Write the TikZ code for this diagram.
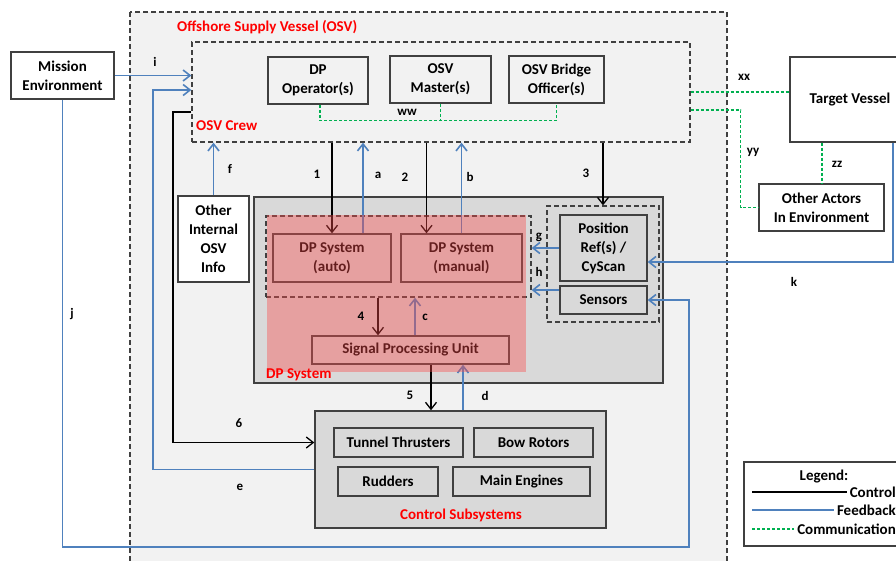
\documentclass[tikz,border=0pt]{standalone}
\usepackage{fontspec}
\setmainfont{Carlito}
\usetikzlibrary{arrows.meta}
\definecolor{fb}{RGB}{79,129,189}
\definecolor{com}{RGB}{0,176,80}
\definecolor{bgray}{RGB}{242,242,242}
\definecolor{dgray}{RGB}{217,217,217}
\definecolor{bord}{RGB}{64,64,64}
\definecolor{pinkov}{RGB}{250,75,75}
\begin{document}
\begin{tikzpicture}[x=1pt, y=-1pt, >={Straight Barb[length=7pt,width=11pt]},
    font=\fontsize{15}{19}\selectfont\bfseries,
    box/.style={draw=bord, line width=1.4pt, align=center, inner sep=0pt},
    wbox/.style={box, fill=white},
    lbox/.style={box, fill=bgray},
    gbox/.style={box, fill=dgray},
    dbox/.style={draw=bord, line width=1.3pt, dash pattern=on 5pt off 3pt, inner sep=0pt},
    ctl/.style={line width=1.3pt, black},
    fdb/.style={line width=1.6pt, fb},
    cmm/.style={line width=1.3pt, com, dash pattern=on 3pt off 2pt},
    lbl/.style={font=\fontsize{13}{15}\selectfont\bfseries, inner sep=0pt},
    ttl/.style={text=red, inner sep=0pt}]
\useasboundingbox (0,0) rectangle (896,560);

\draw[bord, line width=1.2pt, dash pattern=on 5pt off 3pt, fill=bgray] (130,12) rectangle (727,580);
\node[dbox, fill=bgray, minimum width=498, minimum height=100] (crew) at (441,92) {};
\node[ttl, anchor=west] (osvtitle) at (177,27) {Offshore Supply Vessel (OSV)};
\node[ttl, anchor=west] (crewtitle) at (196,126) {OSV Crew};

\node[wbox, minimum width=103, minimum height=47] (mission) at (62.5,75.5) {Mission\\Environment};
\node[lbox, minimum width=100, minimum height=47] (oper) at (318,80.5) {DP\\Operator(s)};
\node[lbox, minimum width=101, minimum height=47] (master) at (440.5,79.5) {OSV\\Master(s)};
\node[lbox, minimum width=95, minimum height=47] (bridge) at (556.5,79.5) {OSV Bridge\\Officer(s)};
\node[wbox, minimum width=120, minimum height=85] (target) at (850,99.5) {Target Vessel};
\node[wbox, minimum width=125, minimum height=47] (actors) at (821.5,207.5) {Other Actors\\In Environment};
\node[wbox, minimum width=71, minimum height=86] (other) at (213.5,239) {Other\\Internal\\OSV\\Info};

\node[gbox, minimum width=409, minimum height=186] (dpsys) at (458.5,290) {};
\node[dbox, minimum width=265, minimum height=81] (dpdash) at (398.5,256.5) {};
\node[gbox, minimum width=118, minimum height=48] (auto) at (332,258) {DP System\\(auto)};
\node[gbox, minimum width=121, minimum height=48] (manual) at (461.5,258) {DP System\\(manual)};
\node[gbox, minimum width=197, minimum height=28] (spu) at (410.5,350) {Signal Processing Unit};
\node[dbox, minimum width=112, minimum height=116] (sensdash) at (603,264) {};
\node[gbox, minimum width=87, minimum height=66] (posref) at (603.5,248) {Position\\Ref(s) /\\CyScan};
\node[gbox, minimum width=87, minimum height=28] (sensors) at (603.5,300) {Sensors};

\node[gbox, minimum width=291, minimum height=117] (ctrl) at (460.5,469.5) {};
\node[gbox, minimum width=129, minimum height=29] (tunnel) at (398.5,442.5) {Tunnel Thrusters};
\node[gbox, minimum width=119, minimum height=29] (bow) at (533.5,442.5) {Bow Rotors};
\node[gbox, minimum width=100, minimum height=29] (rudders) at (388,481.5) {Rudders};
\node[gbox, minimum width=137, minimum height=29] (engines) at (521.5,481.5) {Main Engines};
\node[ttl] (ctrltitle) at (461,515) {Control Subsystems};

\coordinate (sixcorner) at (173,112);
\coordinate (ecorner) at (153,90);
\coordinate (jcorner) at (689,547);

\draw[ctl,->] (auto.north |- crew.south) -- (auto.north);
\draw[fdb,->] ([xshift=31pt]auto.north) -- ([xshift=31pt]auto.north |- crew.south);
\draw[ctl,->] ([xshift=-35pt]manual.north |- crew.south) -- ([xshift=-35pt]manual.north);
\draw[fdb,->] (manual.north) -- (manual.north |- crew.south);
\draw[ctl,->] (sensdash.north |- crew.south) -- (sensdash.north);
\draw[ctl,->] ([xshift=-32.5pt]spu.north |- dpdash.south) -- ([xshift=-32.5pt]spu.north);
\draw[fdb,->] ([xshift=4.5pt]spu.north) -- ([xshift=4.5pt]spu.north |- dpdash.south);
\draw[ctl,->] ([xshift=20.5pt]spu.south) -- ([xshift=20.5pt]spu.south |- ctrl.north);
\draw[fdb,->] ([xshift=52.5pt]spu.south |- ctrl.north) -- ([xshift=52.5pt]spu.south);
\draw[ctl,->] (sixcorner -| crew.west) -- (sixcorner) |- (tunnel.west -| ctrl.west);
\draw[fdb,->] (ctrl.west) -| (ecorner) -- (ecorner -| crew.west);
\draw[fdb,->] (mission.east) -- (mission.east -| crew.west);
\draw[fdb,->] (other.north) -- (other.north |- crew.south);
\draw[fdb,->] (posref.west) -- (posref.west -| dpdash.east);
\draw[fdb,->] ([yshift=10pt]sensors.west) -- ([yshift=10pt]sensors.west -| dpdash.east);
\draw[fdb,->] (mission.south) |- (jcorner) |- (sensors.east);
\draw[fdb,->] ([xshift=43pt]target.south) |- ([yshift=-14pt]posref.east);
\draw[cmm] (crew.east) -- (crew.east -| target.west);
\draw[cmm] ([yshift=-18pt]crew.east) -- ++(50,0) |- (actors.west);
\draw[cmm] ([xshift=-28pt]target.south) -- ([xshift=-28pt]target.south |- actors.north);
\draw[cmm] ([xshift=2pt]oper.south) -- ++(0,16) -| (bridge.south);
\draw[cmm] (master.south) -- ++(0,17);

\fill[pinkov, opacity=0.4] (267,215) rectangle (526,372);
\node[ttl, anchor=west] (dptitle) at (266,375) {DP System};

\node[lbl] (li) at (155,62) {i};
\node[lbl] (l1) at (317,174) {1};
\node[lbl] (la) at (378,175) {a};
\node[lbl] (l2) at (405,177) {2};
\node[lbl] (lb) at (470,177) {b};
\node[lbl] (l3) at (586,173) {3};
\node[lbl] (lf) at (230,169) {f};
\node[lbl] (lg) at (539,237) {g};
\node[lbl] (lh) at (539,272) {h};
\node[lbl] (l4) at (361,316) {4};
\node[lbl] (lc) at (425,317) {c};
\node[lbl] (l5) at (410,395) {5};
\node[lbl] (ld) at (485,396) {d};
\node[lbl] (l6) at (239,423) {6};
\node[lbl] (le) at (240,487) {e};
\node[lbl] (lj) at (72,314) {j};
\node[lbl] (lk) at (794,282) {k};
\node[lbl] (lxx) at (744,77) {xx};
\node[lbl] (lyy) at (753,152) {yy};
\node[lbl] (lzz) at (837,164) {zz};
\node[lbl] (lww) at (407,112) {ww};

\draw[bord, line width=1.4pt, fill=white] (744,462) rectangle (910,546);
\node (legtitle) at (824,476) {Legend:};
\node[anchor=east, inner sep=0pt] (legctl) at (896,492) {Control};
\node[anchor=east, inner sep=0pt] (legfb) at (896,510) {Feedback};
\node[anchor=east, inner sep=0pt] (legcom) at (896,529) {Communication};
\coordinate (swctl) at (752,492);
\coordinate (swfb) at (752,510);
\coordinate (swcom) at (752,529);
\draw[ctl] (swctl) -- ([xshift=-3pt]legctl.west);
\draw[fdb] (swfb) -- ([xshift=-3pt]legfb.west);
\draw[cmm] (swcom) -- ([xshift=-3pt]legcom.west);

\end{tikzpicture}
\end{document}
